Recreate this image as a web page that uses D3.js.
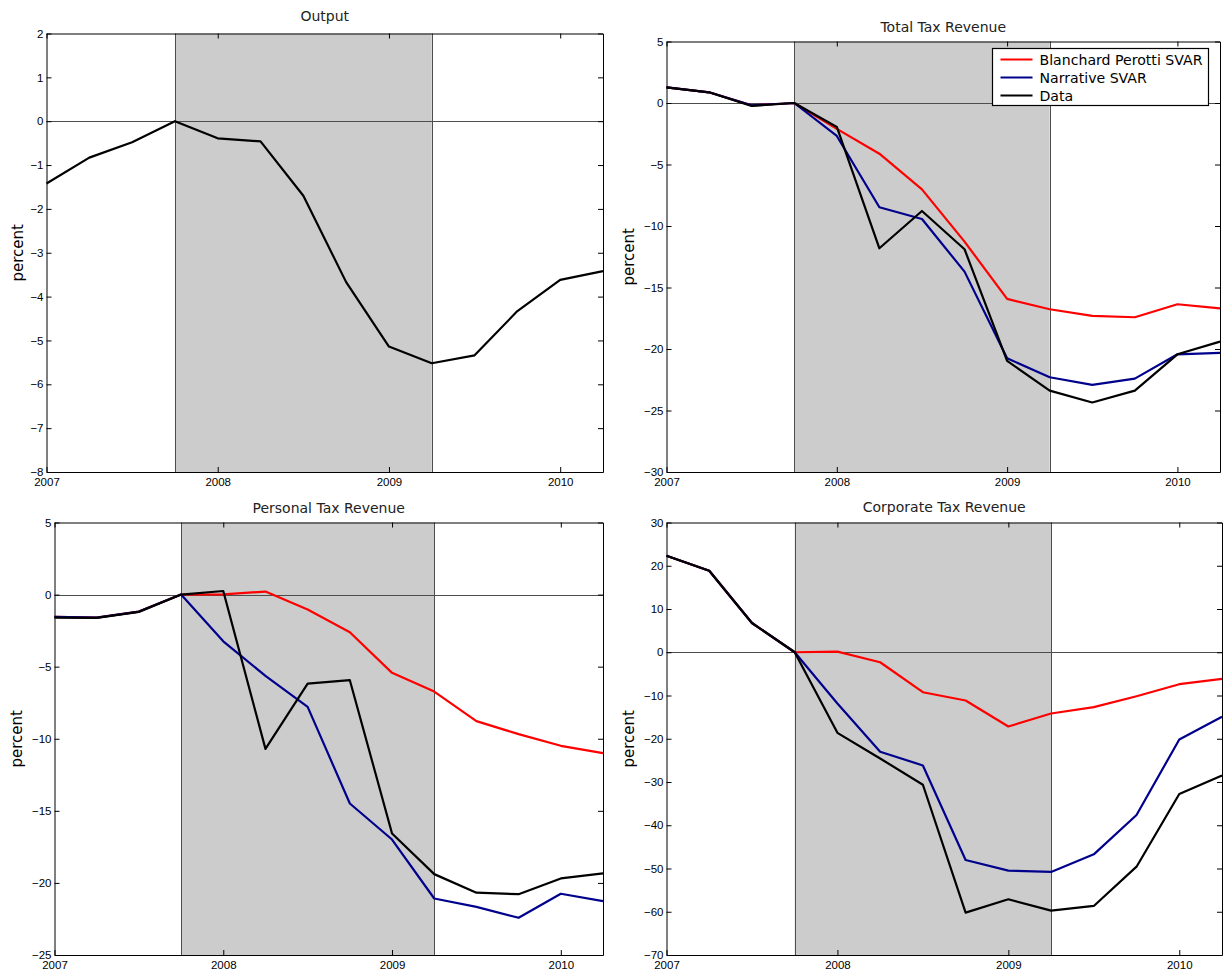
<!DOCTYPE html>
<html>
<head>
<meta charset="utf-8">
<script src="https://cdn.jsdelivr.net/npm/d3@7"></script>
<style>
  body { margin: 0; background: #fff; }
  svg { display: block; }
</style>
</head>
<body>
<svg id="chart" width="1225" height="974"></svg>
<script>
// ---------------- DATA ----------------
const quarters = [2007, 2007.25, 2007.5, 2007.75, 2008, 2008.25, 2008.5, 2008.75,
                  2009, 2009.25, 2009.5, 2009.75, 2010, 2010.25];
const yearTicks = [2007, 2008, 2009, 2010];
const recession = [2007.75, 2009.25];
const seriesNames = ["Blanchard Perotti SVAR", "Narrative SVAR", "Data"];

const panelTitles = ["Output", "Total Tax Revenue", "Personal Tax Revenue", "Corporate Tax Revenue"];
const yLabel = "percent";

const outputTicks = [-8, -7, -6, -5, -4, -3, -2, -1, 0, 1, 2];
const totalTicks = [-30, -25, -20, -15, -10, -5, 0, 5];
const personalTicks = [-25, -20, -15, -10, -5, 0, 5];
const corporateTicks = [-70, -60, -50, -40, -30, -20, -10, 0, 10, 20, 30];

const outputData = [-1.42, -0.83, -0.48, 0, -0.39, -0.46, -1.70, -3.67, -5.14, -5.52, -5.34, -4.33, -3.62, -3.42];

const totalBP   = [1.27, 0.87, -0.19, 0, -2.10, -4.12, -7.02, -11.27, -15.93, -16.77, -17.31, -17.42, -16.36, -16.69];
const totalNarr = [1.27, 0.87, -0.19, 0, -2.68, -8.48, -9.43, -13.71, -20.75, -22.30, -22.92, -22.41, -20.43, -20.32];
const totalData = [1.27, 0.87, -0.24, 0, -1.95, -11.81, -8.78, -11.89, -20.97, -23.38, -24.35, -23.38, -20.43, -19.40];

const personalBP   = [-1.55, -1.60, -1.18, 0, 0.02, 0.21, -1.04, -2.61, -5.43, -6.73, -8.78, -9.68, -10.49, -11.00];
const personalNarr = [-1.55, -1.60, -1.18, 0, -3.24, -5.64, -7.79, -14.49, -16.99, -21.08, -21.66, -22.42, -20.75, -21.26];
const personalData = [-1.60, -1.62, -1.20, 0, 0.25, -10.70, -6.17, -5.94, -16.57, -19.39, -20.68, -20.78, -19.69, -19.34];

const corporateBP   = [22.3, 18.86, 6.77, 0, 0.15, -2.31, -9.24, -11.16, -17.17, -14.17, -12.70, -10.16, -7.39, -6.16];
const corporateNarr = [22.3, 18.86, 6.77, 0, -11.86, -23.02, -26.17, -48.04, -50.50, -50.80, -46.73, -37.64, -20.17, -14.93];
const corporateData = [22.3, 18.86, 6.77, 0, -18.63, -24.56, -30.64, -60.20, -57.12, -59.74, -58.66, -49.58, -32.79, -28.48];

// ---------------- STYLE / LAYOUT ----------------
const seriesColors = { "Blanchard Perotti SVAR": "#ff0000", "Narrative SVAR": "#00008c", "Data": "#000000" };
const labelFont = "'DejaVu Sans', sans-serif";
const tickFont = "'Liberation Sans', Arial, sans-serif";

const layouts = [
  { x0: 46.5, x1: 603, y0: 33.5, y1: 472, titleY: 21, labelX: 18 },
  { x0: 666.5, x1: 1220, y0: 41.5, y1: 472, titleY: 32, labelX: 629 },
  { x0: 54.5, x1: 603, y0: 522.5, y1: 955, titleY: 512.5, labelX: 17 },
  { x0: 666.5, x1: 1222, y0: 522.5, y1: 955, titleY: 512, labelX: 629 }
];

const panels = [
  { title: panelTitles[0], ticks: outputTicks, series: [{ name: "Data", values: outputData }], legend: false },
  { title: panelTitles[1], ticks: totalTicks, series: [
      { name: seriesNames[0], values: totalBP },
      { name: seriesNames[1], values: totalNarr },
      { name: seriesNames[2], values: totalData }], legend: true },
  { title: panelTitles[2], ticks: personalTicks, series: [
      { name: seriesNames[0], values: personalBP },
      { name: seriesNames[1], values: personalNarr },
      { name: seriesNames[2], values: personalData }], legend: false },
  { title: panelTitles[3], ticks: corporateTicks, series: [
      { name: seriesNames[0], values: corporateBP },
      { name: seriesNames[1], values: corporateNarr },
      { name: seriesNames[2], values: corporateData }], legend: false }
];

const svg = d3.select("#chart");
const fmt = d3.format("d");

function styleAxis(sel) {
  sel.select(".domain").attr("stroke", "#000").attr("stroke-width", 1);
  sel.selectAll(".tick line").attr("stroke", "#000").attr("stroke-width", 1);
  sel.selectAll(".tick text").attr("fill", "#000").style("font-family", tickFont).style("font-size", "11.5px");
}

panels.forEach((p, i) => {
  const L = layouts[i];
  const g = svg.append("g");
  const x = d3.scaleLinear().domain([quarters[0], quarters[quarters.length - 1]]).range([L.x0, L.x1]);
  const y = d3.scaleLinear().domain(d3.extent(p.ticks)).range([L.y1, L.y0]);

  // recession shading
  g.append("rect")
    .attr("x", x(recession[0])).attr("y", L.y0)
    .attr("width", x(recession[1]) - x(recession[0]))
    .attr("height", L.y1 - L.y0)
    .attr("fill", "#cccccc");
  recession.forEach(r => {
    g.append("line")
      .attr("x1", Math.round(x(r)) + 0.5).attr("x2", Math.round(x(r)) + 0.5)
      .attr("y1", L.y0).attr("y2", L.y1)
      .attr("stroke", "#4d4d4d").attr("stroke-width", 1);
  });

  // zero line
  g.append("line")
    .attr("x1", L.x0).attr("x2", L.x1)
    .attr("y1", Math.round(y(0)) + 0.5).attr("y2", Math.round(y(0)) + 0.5)
    .attr("stroke", "#4d4d4d").attr("stroke-width", 1);

  // series lines
  const line = d3.line().x((d, j) => x(quarters[j])).y(d => y(d));
  p.series.forEach(s => {
    g.append("path")
      .datum(s.values)
      .attr("d", line)
      .attr("fill", "none")
      .attr("stroke", seriesColors[s.name])
      .attr("stroke-width", 2.2)
      .attr("stroke-linejoin", "round");
  });

  // axes (MATLAB-style inward ticks on all sides)
  const ax = g.append("g");
  const left = ax.append("g").attr("transform", `translate(${L.x0},0)`)
    .call(d3.axisLeft(y).tickValues(p.ticks).tickSize(-5).tickSizeOuter(0).tickPadding(3).tickFormat(fmt));
  styleAxis(left);
  const right = ax.append("g").attr("transform", `translate(${L.x1},0)`)
    .call(d3.axisRight(y).tickValues(p.ticks).tickSize(-5).tickSizeOuter(0).tickFormat(""));
  styleAxis(right);
  const bottom = ax.append("g").attr("transform", `translate(0,${L.y1})`)
    .call(d3.axisBottom(x).tickValues(yearTicks).tickSize(-5).tickSizeOuter(0).tickPadding(6).tickFormat(fmt));
  styleAxis(bottom);
  const top = ax.append("g").attr("transform", `translate(0,${L.y0})`)
    .call(d3.axisTop(x).tickValues(yearTicks).tickSize(-5).tickSizeOuter(0).tickFormat(""));
  styleAxis(top);

  // title
  svg.append("text")
    .attr("x", (L.x0 + L.x1) / 2).attr("y", L.titleY)
    .attr("text-anchor", "middle")
    .style("font-family", labelFont).style("font-size", "14px").attr("fill", "#222")
    .text(p.title);

  // y label
  svg.append("text")
    .attr("transform", `translate(${L.labelX},${(L.y0 + L.y1) / 2}) rotate(-90)`)
    .attr("text-anchor", "middle").attr("dy", "0.35em")
    .style("font-family", labelFont).style("font-size", "15px").attr("fill", "#000")
    .text(yLabel);

  // legend
  if (p.legend) {
    const lg = svg.append("g");
    const bx = 992.5, by = 48.5, bw = 216, bh = 57;
    lg.append("rect").attr("x", bx).attr("y", by).attr("width", bw).attr("height", bh)
      .attr("fill", "#fff").attr("stroke", "#000").attr("stroke-width", 1.2);
    const texts = [];
    seriesNames.forEach((n, k) => {
      const ly = by + 11 + k * 18;
      lg.append("line").attr("x1", bx + 8).attr("x2", bx + 40).attr("y1", ly).attr("y2", ly)
        .attr("stroke", seriesColors[n]).attr("stroke-width", 2.2);
      texts.push(lg.append("text").attr("x", bx + 47).attr("y", ly).attr("dy", "0.36em")
        .style("font-family", labelFont).style("font-size", "14px")
        .attr("fill", "#000")
        .text(n));
    });
    // fit the widest entry to the box (leave a small right margin)
    const target = bw - 47 - 6;
    const w = texts[0].node().getComputedTextLength();
    const fs = Math.min(15, 14 * target / w);
    texts.forEach(t => t.style("font-size", fs + "px"));
  }
});
</script>
</body>
</html>
